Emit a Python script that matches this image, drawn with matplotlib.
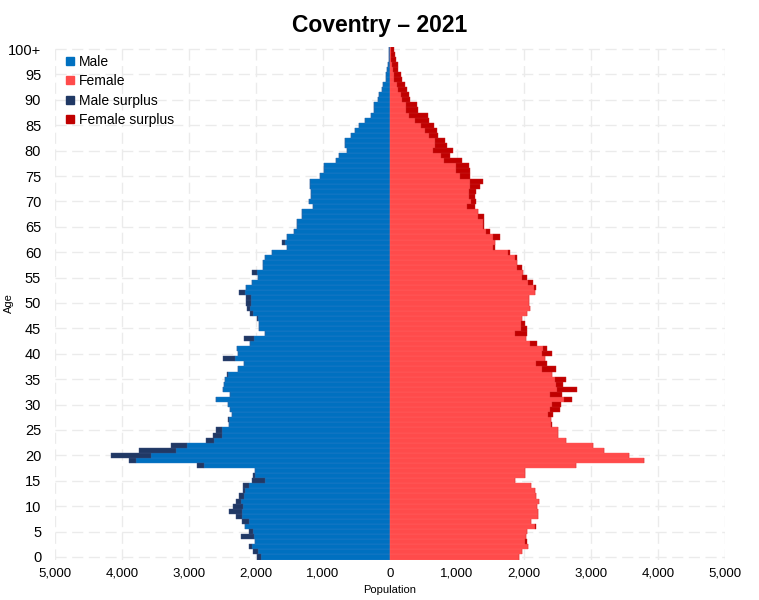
import numpy as np
import matplotlib.pyplot as plt
from matplotlib.lines import Line2D

plt.rcParams['font.family'] = ['Liberation Sans', 'DejaVu Sans']

# Single years of age 0..100 (100 = 100+)
ages = np.arange(0, 101)

male = [1990, 2050, 2110, 2015, 2230, 2105, 2170, 2215, 2300, 2400,
        2340, 2300, 2250, 2200, 2200, 2060, 2040, 2010, 2876, 3900,
        4170, 3745, 3270, 2745, 2635, 2590, 2400, 2415, 2355, 2390,
        2415, 2590, 2390, 2495, 2475, 2470, 2430, 2265, 2180, 2500,
        2265, 2290, 2090, 2175, 1865, 1955, 1955, 1980, 2090, 2140,
        2150, 2155, 2260, 2155, 2060, 1965, 2065, 1900, 1890, 1865,
        1765, 1540, 1610, 1535, 1435, 1395, 1385, 1310, 1310, 1145,
        1205, 1185, 1185, 1195, 1195, 1045, 985, 985, 805, 755,
        640, 670, 670, 585, 520, 460, 375, 290, 240, 240,
        175, 165, 115, 110, 60, 60, 40, 25, 15, 10,
        10]

female = [1930, 1965, 2065, 2040, 2025, 2050, 2175, 2105, 2215, 2205,
          2190, 2225, 2180, 2165, 2100, 1865, 2015, 2015, 2775, 3795,
          3570, 3200, 3030, 2625, 2510, 2510, 2415, 2405, 2430, 2540,
          2545, 2720, 2560, 2785, 2585, 2620, 2415, 2480, 2340, 2315,
          2415, 2350, 2200, 2035, 2040, 2040, 2015, 1965, 2040, 2090,
          2075, 2075, 2165, 2175, 2140, 2040, 1990, 1965, 1900, 1890,
          1790, 1560, 1570, 1645, 1495, 1410, 1410, 1410, 1320, 1270,
          1285, 1270, 1285, 1345, 1385, 1195, 1195, 1180, 1070, 895,
          935, 846, 820, 710, 700, 650, 585, 570, 415, 410,
          300, 285, 250, 225, 175, 165, 125, 115, 90, 75,
          65]

age_ticks = list(range(0, 101, 5))
age_labels = [str(a) for a in age_ticks[:-1]] + ['100+']

c_male = '#0070c0'
c_female = '#ff4b4b'
c_male_sur = '#203864'
c_female_sur = '#c00000'

m = np.array(male)
f = np.array(female)
common = np.minimum(m, f)
m_sur = np.clip(m - f, 0, None)
f_sur = np.clip(f - m, 0, None)

fig = plt.figure(figsize=(7.59, 6), dpi=100)
ax = fig.add_axes([0.0725, 0.0675, 0.8827, 0.855])

h = 1.0
ax.barh(ages, -common, height=h, color=c_male, edgecolor='#2a7cc6', linewidth=0.3, zorder=2)
ax.barh(ages, -m_sur, left=-common, height=h, color=c_male_sur, edgecolor='#3a5080', linewidth=0.3, zorder=2)
ax.barh(ages, common, height=h, color=c_female, edgecolor='#ff6060', linewidth=0.3, zorder=2)
ax.barh(ages, f_sur, left=common, height=h, color=c_female_sur, edgecolor='#c82020', linewidth=0.3, zorder=2)

ax.set_xlim(-5000, 5000)
ax.set_ylim(-0.5, 100.5)

xt = np.arange(-5000, 5001, 1000)
ax.set_xticks(xt)
ax.set_xticklabels([f'{abs(v):,}' for v in xt], fontsize=9.5)
ax.set_yticks(age_ticks)
ax.set_yticklabels(age_labels, fontsize=10.5)
ax.tick_params(length=0, pad=10)
ax.tick_params(axis='x', pad=6)

for s in ax.spines.values():
    s.set_visible(False)

ax.grid(True, color='#ebebeb', linestyle=(0, (8, 4)), linewidth=1, zorder=0)
ax.set_axisbelow(True)

ax.set_xlabel('Population', fontsize=8, labelpad=4)
ax.set_ylabel('Age', fontsize=8, labelpad=0)
ax.yaxis.set_label_coords(-0.062, 0.5)

fig.suptitle('Coventry \u2013 2021', fontsize=16.5, fontweight='bold', y=0.977)

handles = [Line2D([], [], marker='s', linestyle='', color=c, markersize=5.5)
           for c in (c_male, c_female, c_male_sur, c_female_sur)]
ax.legend(handles, ['Male', 'Female', 'Male surplus', 'Female surplus'],
          loc='upper left', bbox_to_anchor=(0.008, 0.995), frameon=False,
          fontsize=10, handlelength=0.6, handletextpad=0.35, labelspacing=0.4,
          borderaxespad=0)

fig.savefig('out.png', dpi=100)
